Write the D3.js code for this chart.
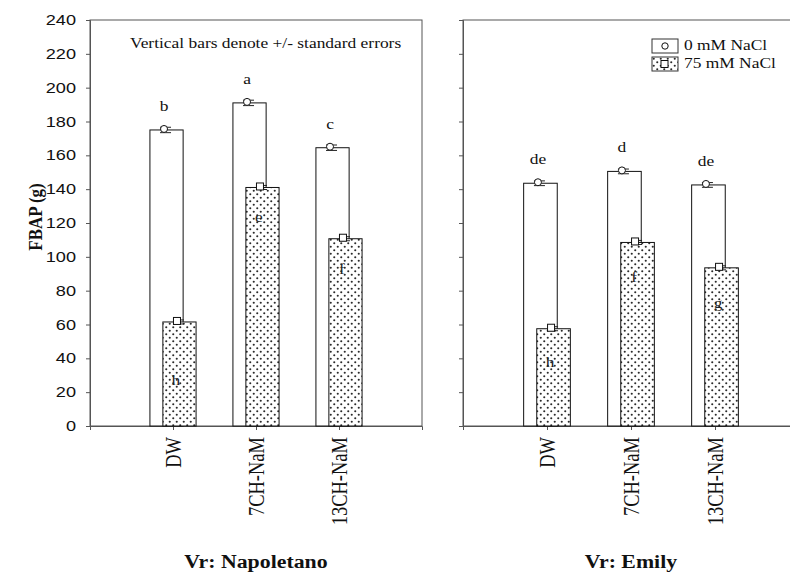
<!DOCTYPE html>
<html>
<head>
<meta charset="utf-8">
<script src="https://cdn.jsdelivr.net/npm/d3@7"></script>
<style>
  html, body { margin: 0; padding: 0; background: #fff; }
  svg { display: block; }
</style>
</head>
<body>
<svg id="chart" width="790" height="573"></svg>
<script>
// FBAP (g) by seed treatment, two cultivars, two salinity levels
const categories = ["DW", "7CH-NaM", "13CH-NaM"];
const panelTitles = ["Vr: Napoletano", "Vr: Emily"];
const seriesNames = ["0 mM NaCl", "75 mM NaCl"];

const napoletano0 = [175, 191, 164.5];
const napoletano75 = [61.5, 141, 110.7];
const emily0 = [143.5, 150.5, 142.5];
const emily75 = [57.5, 108.5, 93.5];

const napoletano0SE = [1.6, 1.6, 1.6];
const napoletano75SE = [1.2, 1.2, 1.2];
const emily0SE = [1.4, 1.4, 1.4];
const emily75SE = [1.2, 1.2, 1.2];

const napoletano0Letters = ["b", "a", "c"];
const napoletano75Letters = ["h", "e", "f"];
const emily0Letters = ["de", "d", "de"];
const emily75Letters = ["h", "f", "g"];

const yTicks = [0, 20, 40, 60, 80, 100, 120, 140, 160, 180, 200, 220, 240];

// where the letters inside the salted bars sit, in axis units
const napoletano75LetterAt = [24, 120.5, 90];
const emily75LetterAt = [35, 85, 69.5];

const plotTop = 20, plotBottom = 426;
const stretchK = 1.2;

const svg = d3.select("#chart");

const defs = svg.append("defs");
const pat = defs.append("pattern")
  .attr("id", "dots").attr("patternUnits", "userSpaceOnUse")
  .attr("width", 7).attr("height", 7);
pat.append("rect").attr("width", 7).attr("height", 7).attr("fill", "#fff");
pat.append("circle").attr("cx", 1.75).attr("cy", 1.75).attr("r", 1.05).attr("fill", "#2a2a2a");
pat.append("circle").attr("cx", 5.25).attr("cy", 5.25).attr("r", 1.05).attr("fill", "#2a2a2a");

const y = d3.scaleLinear().domain([0, 240]).range([plotBottom, plotTop]);

function stretch(sel, k) {
  sel.each(function () {
    const L = this.getComputedTextLength();
    this.setAttribute("textLength", L * k);
    this.setAttribute("lengthAdjust", "spacingAndGlyphs");
  });
}

const panels = [
  { title: panelTitles[0], range: [90, 422], v0: napoletano0, v75: napoletano75,
    se0: napoletano0SE, se75: napoletano75SE, l0: napoletano0Letters, l75: napoletano75Letters,
    l75At: napoletano75LetterAt, yLabels: true, legend: false, note: true },
  { title: panelTitles[1], range: [463, 799], v0: emily0, v75: emily75,
    se0: emily0SE, se75: emily75SE, l0: emily0Letters, l75: emily75Letters,
    l75At: emily75LetterAt, yLabels: false, legend: true, note: false }
];

const serif = "'Liberation Serif', 'Times New Roman', serif";
const sans = "'Liberation Sans', Arial, sans-serif";

panels.forEach(p => {
  const x = d3.scaleLinear().domain([0, 4]).range(p.range);
  const g = svg.append("g");
  const unit = x(1) - x(0);
  const bw = 0.4 * unit, off = 0.078 * unit;

  // frame
  g.append("rect")
    .attr("x", p.range[0]).attr("y", plotTop)
    .attr("width", p.range[1] - p.range[0]).attr("height", plotBottom - plotTop)
    .attr("fill", "none").attr("stroke", "#555").attr("stroke-width", 1);

  // y axis
  const ya = g.append("g").attr("transform", `translate(${p.range[0]},0)`)
    .call(d3.axisLeft(y).tickValues(yTicks).tickSize(4).tickPadding(10)
      .tickFormat(p.yLabels ? d3.format("d") : () => ""));
  ya.select(".domain").attr("stroke", "#555");
  ya.selectAll(".tick line").attr("stroke", "#555");
  ya.selectAll(".tick text").attr("font-family", sans).attr("font-size", 14.5)
    .attr("fill", "#111");
  if (p.yLabels) stretch(ya.selectAll(".tick text"), 1.25);

  // x axis
  const xa = g.append("g").attr("transform", `translate(0,${plotBottom})`)
    .call(d3.axisBottom(x).tickValues([1, 2, 3]).tickSize(4)
      .tickFormat((d, i) => categories[i]));
  xa.select(".domain").attr("stroke", "#555");
  xa.selectAll(".tick line").attr("stroke", "#555");
  xa.selectAll(".tick text")
    .attr("font-family", serif).attr("font-size", 18.5).attr("fill", "#111")
    .attr("text-anchor", "end").attr("y", 0).attr("dy", "0.34em")
    .attr("transform", `translate(0,11) scale(${stretchK},1) rotate(-90)`);

  const idx = d3.range(categories.length);

  // control bars (white) and salt bars (dotted, in front)
  g.selectAll(".b0").data(idx).join("rect")
    .attr("x", i => x(i + 1) - off - bw / 2).attr("y", i => y(p.v0[i]))
    .attr("width", bw).attr("height", i => y(0) - y(p.v0[i]))
    .attr("fill", "#fff").attr("stroke", "#111").attr("stroke-width", 1);

  g.selectAll(".b75").data(idx).join("rect")
    .attr("x", i => x(i + 1) + off - bw / 2).attr("y", i => y(p.v75[i]))
    .attr("width", bw).attr("height", i => y(0) - y(p.v75[i]))
    .attr("fill", "url(#dots)").attr("stroke", "#111").attr("stroke-width", 1);

  // error bars and point markers
  function errBar(cx, v, se) {
    const e = g.append("g").attr("stroke", "#222").attr("stroke-width", 1);
    e.append("line").attr("x1", cx).attr("x2", cx).attr("y1", y(v + se)).attr("y2", y(v - se));
    e.append("line").attr("x1", cx - 4).attr("x2", cx + 7).attr("y1", y(v + se)).attr("y2", y(v + se));
    e.append("line").attr("x1", cx - 4).attr("x2", cx + 7).attr("y1", y(v - se)).attr("y2", y(v - se));
  }
  idx.forEach(i => {
    const c0 = x(i + 1) - off - 2.5;
    const c75 = x(i + 1) + off - 2.5;
    errBar(c0, p.v0[i], p.se0[i]);
    g.append("circle").attr("cx", c0).attr("cy", y(p.v0[i]) - 1).attr("r", 3.5)
      .attr("fill", "#fff").attr("stroke", "#111");
    errBar(c75, p.v75[i], p.se75[i]);
    g.append("rect").attr("x", c75 - 3.5).attr("y", y(p.v75[i]) - 4.5)
      .attr("width", 7).attr("height", 7)
      .attr("fill", "#fff").attr("stroke", "#111");

    const t0 = g.append("text").attr("x", c0).attr("y", y(p.v0[i]) - 19)
      .attr("text-anchor", "middle").attr("font-family", serif).attr("font-size", 14.5)
      .attr("fill", "#111").text(p.l0[i]);
    stretch(t0, stretchK);
    const t75 = g.append("text").attr("x", c75 - 1).attr("y", y(p.l75At[i]))
      .attr("text-anchor", "middle").attr("font-family", serif).attr("font-size", 14.5)
      .attr("fill", "#222").text(p.l75[i]);
    stretch(t75, stretchK);
  });

  // panel title
  const tt = svg.append("text")
    .attr("x", x(2)).attr("y", 568).attr("text-anchor", "middle")
    .attr("font-family", serif).attr("font-weight", "bold").attr("font-size", 18.5)
    .attr("fill", "#111").text(p.title);
  stretch(tt, 1.18);

  if (p.note) {
    const n = g.append("text").attr("x", 130).attr("y", 48)
      .attr("font-family", serif).attr("font-size", 14.5).attr("fill", "#111")
      .text("Vertical bars denote +/- standard errors");
    stretch(n, stretchK);
  }

  if (p.legend) {
    const lg = g.append("g").attr("transform", "translate(652,39)");
    const fills = ["#fff", "url(#dots)"];
    seriesNames.forEach((name, k) => {
      const row = lg.append("g").attr("transform", `translate(0,${k * 18})`);
      row.append("rect").attr("width", 26).attr("height", 14)
        .attr("fill", fills[k]).attr("stroke", "#333");
      if (k === 0) {
        row.append("circle").attr("cx", 13).attr("cy", 7).attr("r", 3.2)
          .attr("fill", "#fff").attr("stroke", "#111");
      } else {
        row.append("rect").attr("x", 9).attr("y", 3.5).attr("width", 7).attr("height", 7)
          .attr("fill", "#fff").attr("stroke", "#111");
      }
      const t = row.append("text").attr("x", 32).attr("y", 11)
        .attr("font-family", serif).attr("font-size", 14.5).attr("fill", "#111").text(name);
      stretch(t, stretchK);
    });
  }
});

// shared y axis title
svg.append("text")
  .attr("font-family", serif).attr("font-weight", "bold").attr("font-size", 17)
  .attr("fill", "#111").attr("text-anchor", "middle").attr("dy", "0.33em")
  .attr("transform", `translate(36,217) scale(1.15,1) rotate(-90)`)
  .text("FBAP (g)");
</script>
</body>
</html>
